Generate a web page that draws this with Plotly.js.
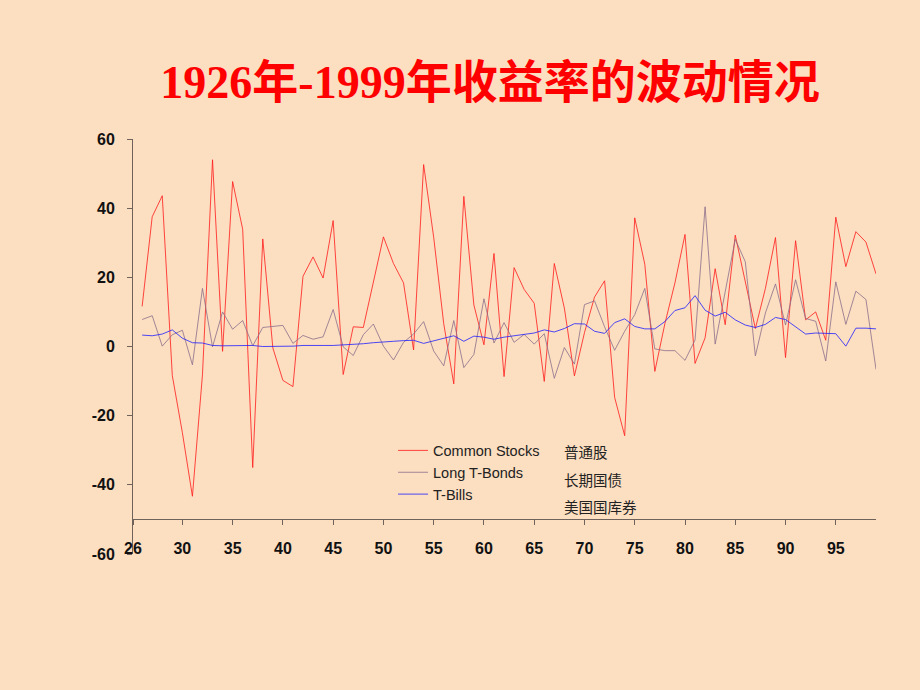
<!DOCTYPE html>
<html>
<head>
<meta charset="utf-8">
<script src="https://cdn.plot.ly/plotly-3.0.1.min.js"></script>
<style>html,body{margin:0;padding:0;background:#FCDEC0;}#chart{width:920px;height:690px;}</style>
</head>
<body>
<div id="chart"></div>
<script>
// Years 1926-1999 (two-digit)
const years = [26,27,28,29,30,31,32,33,34,35,36,37,38,39,40,41,42,43,44,45,46,47,48,49,50,51,52,53,54,55,56,57,58,59,60,61,62,63,64,65,66,67,68,69,70,71,72,73,74,75,76,77,78,79,80,81,82,83,84,85,86,87,88,89,90,91,92,93,94,95,96,97,98,99];

const commonStocks = [11.6,37.5,43.6,-8.4,-24.9,-43.3,-8.2,54.0,-1.4,47.7,33.9,-35.0,31.1,-0.4,-9.8,-11.6,20.3,25.9,19.8,36.4,-8.1,5.7,5.5,18.8,31.7,24.0,18.4,-1.0,52.6,31.6,6.6,-10.8,43.4,12.0,0.5,26.9,-8.7,22.8,16.5,12.5,-10.1,24.0,11.1,-8.5,4.0,14.3,19.0,-14.7,-25.8,37.2,23.8,-7.2,6.6,18.4,32.4,-4.9,2.5,22.5,6.3,32.2,18.5,5.2,16.8,31.5,-3.2,30.6,7.7,10.0,1.8,37.4,23.1,33.2,30.2,21.0];

const longTBonds = [7.8,8.9,0.1,3.4,4.7,-5.3,16.8,-0.1,10.0,5.0,7.5,0.2,5.5,5.9,6.1,0.9,3.2,2.1,2.8,10.7,-0.1,-2.6,3.4,6.5,0.1,-3.9,1.2,3.6,7.2,-1.3,-5.6,7.5,-6.1,-2.3,13.8,1.0,6.9,1.2,3.5,0.7,3.7,-9.2,-0.3,-5.1,12.1,13.2,5.7,-1.1,4.4,9.2,16.8,-0.7,-1.2,-1.2,-4.0,1.9,40.4,0.7,15.5,31.0,24.5,-2.7,9.7,18.1,6.2,19.3,8.1,7.3,-4.2,18.7,6.4,16.0,13.6,-6.6];

const tBills = [3.3,3.1,3.6,4.8,2.4,1.1,1.0,0.3,0.2,0.2,0.2,0.3,0.0,0.0,0.0,0.1,0.3,0.4,0.3,0.3,0.4,0.5,0.8,1.1,1.2,1.5,1.7,1.8,0.9,1.6,2.5,3.1,1.5,3.0,2.7,2.1,2.7,3.1,3.5,3.9,4.8,4.2,5.2,6.6,6.5,4.4,3.8,6.9,8.0,5.8,5.1,5.1,7.2,10.4,11.2,14.7,10.5,8.8,9.9,7.7,6.2,5.5,6.4,8.4,7.8,5.6,3.6,3.9,3.9,3.7,0.1,5.3,5.3,5.1];

const seriesNames = ["Common Stocks", "Long T-Bonds", "T-Bills"];
const seriesNamesZh = ["普通股", "长期国债", "美国国库券"];

const xTickVals = [25.09,30,35,40,45,50,55,60,65,70,75,80,85,90,95];
const xTickText = ["26","30","35","40","45","50","55","60","65","70","75","80","85","90","95"];
const yTickVals = [60,40,20,0,-20,-40,-60];
const yTickText = ["60","40","20","0","-20","-40","-60"];

const titleText = "1926年-1999年收益率的波动情况";

const bg = "#FCDEC0";
const axisColor = "#6E625A";

const traces = [
  {x: years, y: commonStocks, name: seriesNames[0], type: "scatter", mode: "lines",
   line: {color: "#FF1A1A", width: 0.8}, legendgroup: "a"},
  {x: years, y: longTBonds, name: seriesNames[1], type: "scatter", mode: "lines",
   line: {color: "#8C6F8C", width: 0.8}, legendgroup: "b"},
  {x: years, y: tBills, name: seriesNames[2], type: "scatter", mode: "lines",
   line: {color: "#2020FF", width: 0.8}, legendgroup: "c"}
];

const layout = {
  width: 920, height: 690,
  paper_bgcolor: bg, plot_bgcolor: bg,
  margin: {l: 133, r: 44, t: 139, b: 136, pad: 0},
  title: {
    text: titleText,
    font: {family: "Liberation Serif, 'Noto Sans CJK SC', serif", size: 46, color: "#FF0000", weight: "bold"},
    x: 0.4805, xanchor: "center", xref: "paper",
    y: 0.881, yanchor: "middle", yref: "container"
  },
  showlegend: true,
  legend: {
    x: 0.35, y: 0.288, xanchor: "left", yanchor: "top",
    bgcolor: "rgba(0,0,0,0)", borderwidth: 0,
    font: {family: "Liberation Sans, Arial, sans-serif", size: 14.5, color: "#222"},
    traceorder: "normal", tracegroupgap: 0
  },
  xaxis: {
    range: [25.09, 99],
    anchor: "free", position: 10/120,
    showgrid: false, zeroline: false,
    showline: true, linecolor: axisColor, linewidth: 1,
    ticks: "outside", ticklen: 5, tickcolor: axisColor, tickwidth: 1,
    tickmode: "array", tickvals: xTickVals, ticktext: xTickText,
    tickfont: {family: "Liberation Sans, Arial, sans-serif", size: 16, color: "#111", weight: "bold"},
    ticklabelstandoff: 9
  },
  yaxis: {
    range: [-60, 60],
    showgrid: false, zeroline: false,
    showline: true, linecolor: axisColor, linewidth: 1,
    ticks: "outside", ticklen: 5, tickcolor: axisColor, tickwidth: 1,
    tickmode: "array", tickvals: yTickVals, ticktext: yTickText,
    tickfont: {family: "Liberation Sans, Arial, sans-serif", size: 16, color: "#111", weight: "bold"},
    ticklabelstandoff: 9
  },
  annotations: seriesNamesZh.map((t, i) => ({
    text: t, xref: "paper", yref: "paper",
    x: 0.5774, y: [0.2458, 0.1807, 0.114][i],
    xanchor: "left", yanchor: "middle", showarrow: false,
    font: {family: "'Noto Sans CJK SC', sans-serif", size: 14.5, color: "#222"}
  }))
};

Plotly.newPlot("chart", traces, layout, {displayModeBar: false, staticPlot: true});
</script>
</body>
</html>
